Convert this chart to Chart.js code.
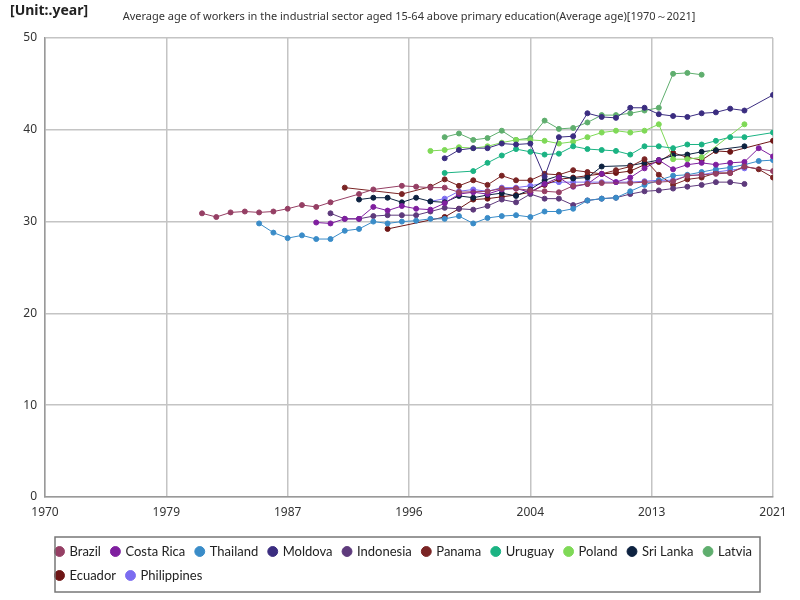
<!DOCTYPE html>
<html>
<head>
<meta charset="utf-8">
<script src="https://cdn.jsdelivr.net/npm/chart.js@4.4.1/dist/chart.umd.min.js"></script>
<style>
  body { margin: 0; background: #fff; }
  #wrap { position: relative; width: 800px; height: 600px; }
  #unit { position: absolute; left: 10px; top: 0px; font: bold 14px "Noto Sans", sans-serif; color: #222; }
  #sub { position: absolute; left: 0; width: 818px; top: 8px; text-align: center; font: 11px "Noto Sans", sans-serif; color: #333; }
</style>
</head>
<body>
<div id="wrap">
  <canvas id="myChart" width="800" height="600"></canvas>
  <div id="unit">[Unit:.year]</div>
  <div id="sub">Average age of workers in the industrial sector aged 15-64 above primary education(Average age)[1970～2021]</div>
</div>
<script>
// years 1981 .. 2021, one slot per year, null = no value
const years = [];
for (let y = 1981; y <= 2021; y++) years.push(y);

const countries = ['Brazil', 'Costa Rica', 'Thailand', 'Moldova', 'Indonesia', 'Panama',
    'Uruguay', 'Poland', 'Sri Lanka', 'Latvia', 'Ecuador', 'Philippines'];

const colors = ['#953f64', '#7f1f9f', '#3a8cc8', '#3b2d80', '#5e3a7c', '#7a2424',
    '#1bb383', '#7fd957', '#0d2240', '#5fae6e', '#6e1616', '#7b6cf0'];

//                1981  1982  1983  1984  1985  1986  1987  1988  1989  1990
//                1991  1992  1993  1994  1995  1996  1997  1998  1999  2000
//                2001  2002  2003  2004  2005  2006  2007  2008  2009  2010
//                2011  2012  2013  2014  2015  2016  2017  2018  2019  2020  2021
const brazil = [30.9, 30.5, 31.0, 31.1, 31.0, 31.1, 31.4, 31.8, 31.6, 32.1,
    null, 33.0, 33.5, null, 33.9, 33.8, 33.7, 33.7, 33.2, null,
    33.3, 33.6, 33.6, 33.4, 33.3, 33.2, 33.9, 34.1, 34.2, null,
    34.2, 34.3, 34.3, 34.4, 35.0, 35.1, 35.2, 35.3, 36.0, null, 35.5];
const costaRica = [null, null, null, null, null, null, null, null, 29.9, 29.8,
    30.3, 30.3, 31.6, 31.2, 31.7, 31.4, 31.3, 32.0, 33.0, 33.2,
    33.0, 33.5, 33.6, 33.2, 34.1, 34.8, 33.8, 34.1, 35.2, 34.3,
    34.8, 35.8, 36.7, 35.7, 36.2, 36.4, 36.2, 36.4, 36.5, 38.0, 37.1];
const thailand = [null, null, null, null, 29.8, 28.8, 28.2, 28.5, 28.1, 28.1,
    29.0, 29.2, 30.0, 29.8, 30.0, 30.1, 30.3, 30.3, 30.6, 29.8,
    30.4, 30.6, 30.7, 30.5, 31.1, 31.1, 31.4, 32.3, 32.5, 32.6,
    33.3, 34.0, 34.5, 35.0, 35.1, 35.4, 35.7, 35.9, 36.2, 36.6, 36.7];
const moldova = [null, null, null, null, null, null, null, null, null, null,
    null, null, null, null, null, null, null, 36.9, 37.8, 38.0,
    38.0, 38.5, 38.4, 38.5, 34.9, 39.2, 39.3, 41.8, 41.4, 41.3,
    42.4, 42.4, 41.7, 41.5, 41.4, 41.8, 41.9, 42.3, 42.1, null, 43.8];
const indonesia = [null, null, null, null, null, null, null, null, null, 30.9,
    30.3, 30.3, 30.6, 30.7, 30.7, 30.7, 31.1, 31.5, 31.4, 31.3,
    31.7, 32.4, 32.1, 33.0, 32.5, 32.5, 31.8, 32.3, 32.5, 32.6,
    33.0, 33.3, 33.4, 33.6, 33.8, 34.0, 34.3, 34.3, 34.1, null, null];
const panama = [null, null, null, null, null, null, null, null, null, null,
    33.7, null, null, null, 33.0, null, 33.8, 34.6, 33.9, 34.5,
    34.0, 35.0, 34.5, 34.5, 35.2, 35.1, 35.6, 35.4, 35.2, 35.6,
    36.0, 36.8, 35.1, 34.0, 34.6, 34.8, 35.3, 35.3, 36.0, 35.7, 34.8];
const uruguay = [null, null, null, null, null, null, null, null, null, null,
    null, null, null, null, null, null, null, 35.3, null, 35.5,
    36.4, 37.2, 37.9, 37.6, 37.3, 37.4, 38.2, 37.9, 37.8, 37.7,
    37.3, 38.2, 38.2, 38.0, 38.4, 38.4, 38.8, 39.2, 39.2, null, 39.7];
const poland = [null, null, null, null, null, null, null, null, null, null,
    null, null, null, null, null, null, 37.7, 37.8, 38.1, 38.0,
    38.2, 38.6, 38.9, 38.9, 38.8, 38.5, 38.7, 39.2, 39.7, 39.9,
    39.7, 39.9, 40.6, 36.8, 36.8, 37.0, null, null, 40.6, null, null];
const sriLanka = [null, null, null, null, null, null, null, null, null, null,
    null, 32.4, 32.6, 32.6, 32.1, 32.6, 32.2, 32.1, 32.8, 32.6,
    32.9, 33.1, 32.8, 33.5, 34.5, 35.0, 34.7, 34.8, 36.0, null,
    36.1, 36.4, 36.7, 37.2, 37.3, 37.6, 37.8, null, 38.2, null, null];
const latvia = [null, null, null, null, null, null, null, null, null, null,
    null, null, null, null, null, null, null, 39.2, 39.6, 38.9,
    39.1, 39.9, 38.9, 39.1, 41.0, 40.1, 40.2, 40.8, 41.6, 41.6,
    41.8, 42.1, 42.4, 46.1, 46.2, 46.0, null, null, null, null, null];
const ecuador = [null, null, null, null, null, null, null, null, null, null,
    null, null, null, 29.2, null, null, null, 30.5, 31.4, 32.4,
    32.5, 32.7, 32.9, 33.2, 34.0, 34.6, 34.8, 35.0, 35.2, 35.3,
    35.5, 36.2, 36.5, 37.5, 37.0, 36.7, 37.7, 37.6, null, null, 38.8];
const philippines = [null, null, null, null, null, null, null, null, null, null,
    null, null, null, null, null, null, 32.2, 32.5, 33.3, 33.5,
    33.3, 33.7, 33.7, 33.9, 34.2, 34.3, 34.3, 34.3, 34.3, 34.3,
    34.3, 34.4, 34.5, 34.5, 35.0, 35.1, 35.4, 35.6, 35.8, null, null];

const seriesList = [brazil, costaRica, thailand, moldova, indonesia, panama,
    uruguay, poland, sriLanka, latvia, ecuador, philippines];

const xTicks = [1970, 1979, 1987, 1996, 2004, 2013, 2021];

function toPoints(values) {
    let pts = [];
    for (let i = 0; i < years.length; i++) {
        if (values[i] !== null) pts.push({ x: years[i], y: values[i] });
    }
    return pts;
}

let datasets = [];
for (let i = 0; i < countries.length; i++) {
    datasets.push({
        label: countries[i],
        data: toPoints(seriesList[i]),
        borderColor: colors[i],
        backgroundColor: colors[i],
        borderWidth: 1,
        pointRadius: 2.5,
        pointHoverRadius: 3,
        tension: 0
    });
}

// box round the legend
const legendBox = {
    id: 'legendBox',
    afterDraw(chart) {
        const lg = chart.legend;
        const ctx = chart.ctx;
        ctx.save();
        ctx.strokeStyle = '#777';
        ctx.lineWidth = 1.5;
        ctx.strokeRect(55, lg.top + 3, 705, 55);
        ctx.restore();
    }
};

Chart.defaults.font.family = '"Noto Sans", sans-serif';
Chart.defaults.color = '#333';

new Chart(document.getElementById('myChart'), {
    type: 'line',
    data: { datasets: datasets },
    options: {
        responsive: false,
        animation: false,
        layout: { padding: { top: 38, right: 27, left: 0, bottom: 8 } },
        plugins: {
            legend: {
                position: 'bottom',
                align: 'start',
                fullSize: false,
                labels: {
                    usePointStyle: true,
                    pointStyle: 'circle',
                    boxWidth: 7,
                    boxHeight: 7,
                    padding: 11,
                    font: { size: 13, family: 'Lato' },
                    color: '#222'
                }
            },
            tooltip: { enabled: false }
        },
        scales: {
            x: {
                type: 'linear',
                min: 1970,
                max: 2021,
                afterBuildTicks(scale) {
                    scale.ticks = [1970, 1978.5, 1987, 1995.5, 2004, 2012.5, 2021].map(v => ({ value: v }));
                },
                afterFit(scale) { scale.height = 37; },
                ticks: {
                    callback: (v, i) => xTicks[i],
                    maxRotation: 0,
                    font: { size: 12 },
                    color: '#333',
                    padding: 8
                },
                grid: { color: '#c4c4c4', lineWidth: 1.5, drawTicks: false },
                border: { color: '#999', width: 1.5 }
            },
            y: {
                min: 0,
                max: 50,
                afterFit(scale) { scale.width = 45; },
                ticks: { stepSize: 10, font: { size: 12 }, color: '#333', padding: 8 },
                grid: { color: '#c4c4c4', lineWidth: 1.5, drawTicks: false },
                border: { color: '#999', width: 1.5 }
            }
        }
    },
    plugins: [legendBox]
});
</script>
</body>
</html>
